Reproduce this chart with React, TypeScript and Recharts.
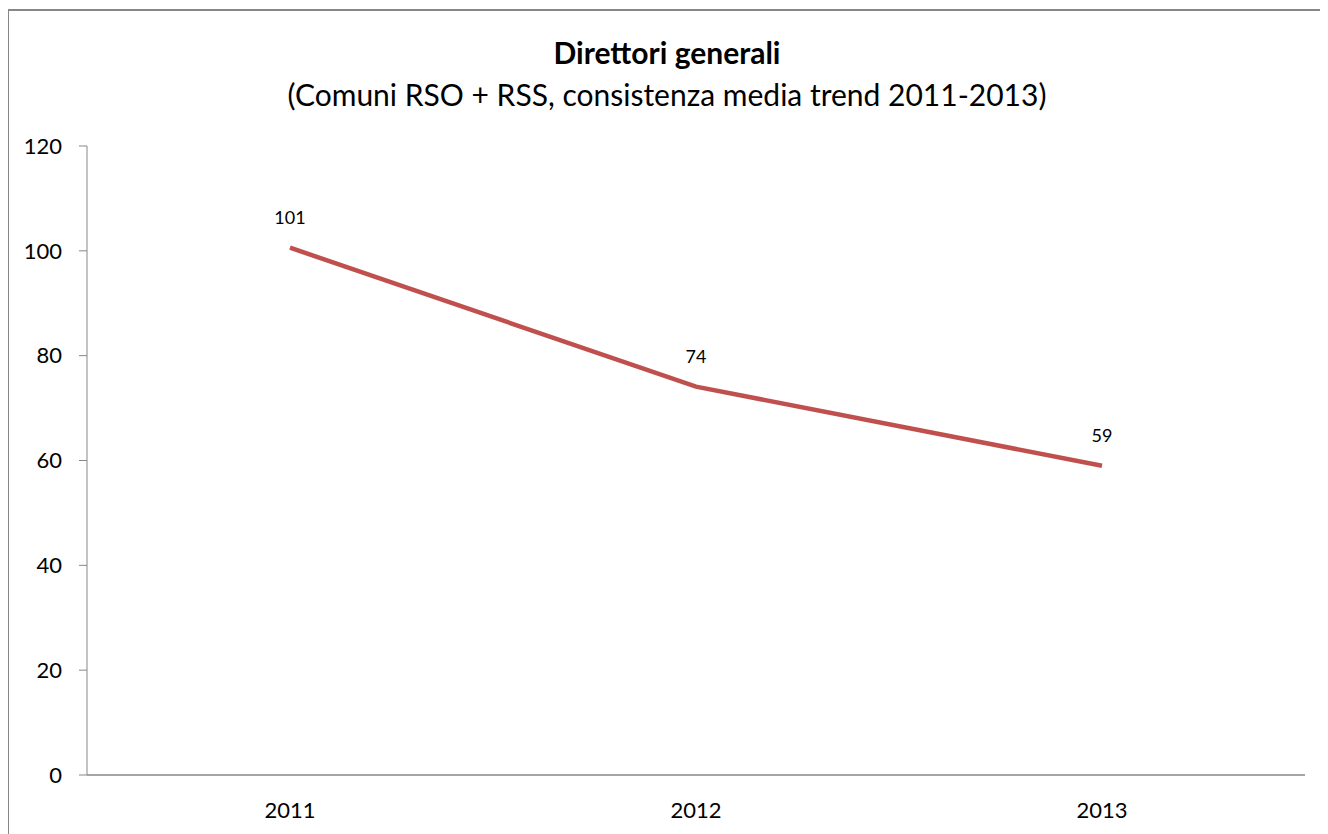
import { CartesianGrid, LabelList, Line, LineChart, XAxis, YAxis } from "recharts";

const years = ["2011", "2012", "2013"];
const directors = [100.6, 74.1, 59];
const yTicks = [0, 20, 40, 60, 80, 100, 120];
const boundaryTicks = [0, 1, 2, 3];

const title = "Direttori generali";
const subtitle = "(Comuni RSO + RSS, consistenza media trend 2011-2013)";

const data = years.map((year, i) => ({ year, value: directors[i] }));

const font = "Lato, 'Open Sans', sans-serif";

export default function App() {
	return (
		<div
			style={{
				position: "relative",
				width: 1316,
				height: 830,
				margin: "1px 0 0 -1px",
				border: "2px solid #878787",
				background: "#fff",
				fontFamily: font,
				color: "#000",
			}}
		>
			<div
				style={{
					position: "absolute",
					top: 23,
					left: 0,
					width: "100%",
					textAlign: "center",
					fontSize: 30,
					fontWeight: 700,
				}}
			>
				{title}
			</div>
			<div
				style={{
					position: "absolute",
					top: 65,
					left: 0,
					width: "100%",
					textAlign: "center",
					fontSize: 30,
				}}
			>
				{subtitle}
			</div>
			<LineChart
				width={1316}
				height={820}
				data={data}
				margin={{ top: 135, right: 20, bottom: 15, left: 0 }}
				style={{ position: "absolute", top: 0, left: 0 }}
			>
				<CartesianGrid stroke="none" />
				<XAxis
					dataKey="year"
					padding={{ left: 203, right: 203 }}
					tickLine={false}
					axisLine={{ stroke: "#878787", strokeWidth: 1.5 }}
					tick={{ fill: "#000", fontSize: 22, fontFamily: font }}
					tickMargin={21}
					height={40}
				/>
				<XAxis
					xAxisId="bounds"
					type="number"
					domain={[0, 3]}
					ticks={boundaryTicks}
					axisLine={false}
					tick={false}
					tickSize={9}
					tickLine={{ stroke: "#878787" }}
					height={1}
				/>
				<YAxis
					domain={[0, 120]}
					ticks={yTicks}
					width={78}
					tickSize={8}
					tickMargin={17}
					axisLine={{ stroke: "#878787" }}
					tickLine={{ stroke: "#878787" }}
					tick={{ fill: "#000", fontSize: 22, fontFamily: font }}
				/>
				<Line
					dataKey="value"
					stroke="#C0504D"
					strokeWidth={4.5}
					dot={false}
					isAnimationActive={false}
				>
					<LabelList
						dataKey="value"
						position="top"
						offset={24}
						formatter={(v: number) => Math.round(v)}
						style={{ fill: "#000", fontSize: 18, fontFamily: font }}
					/>
				</Line>
			</LineChart>
		</div>
	);
}
